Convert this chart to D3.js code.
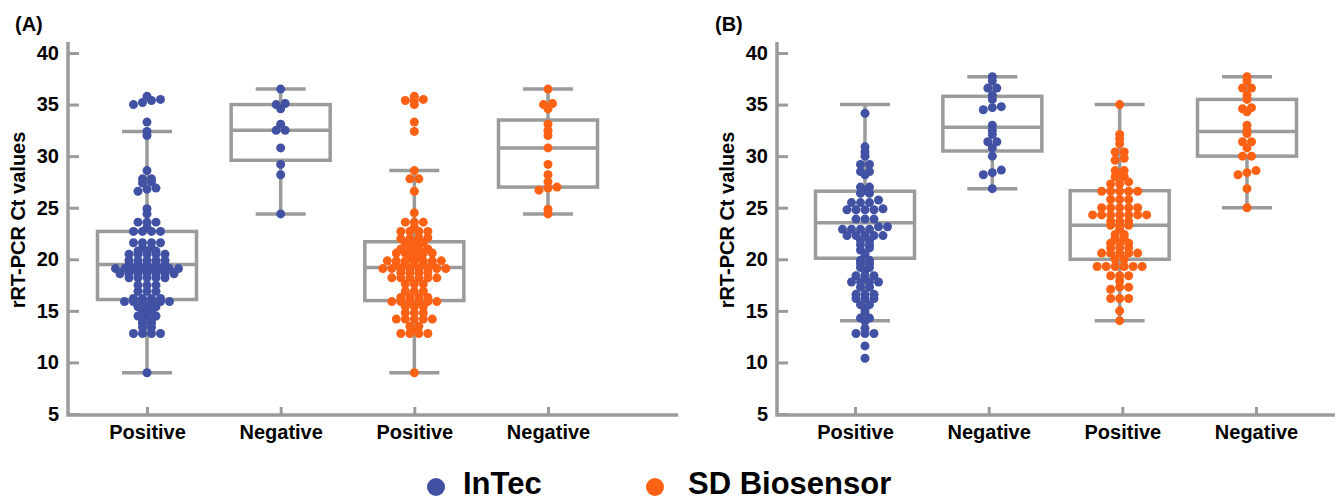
<!DOCTYPE html>
<html>
<head>
<meta charset="utf-8">
<script src="https://cdn.jsdelivr.net/npm/d3@7"></script>
<style>
  body { margin: 0; background: #fff; }
  svg { display: block; }
</style>
</head>
<body>
<script>
// categories on the x axis (same order in both panels)
const categories = ["Positive", "Negative", "Positive", "Negative"];
const groupKeys = ["InTec-Positive", "InTec-Negative", "SD-Positive", "SD-Negative"];
const groupKits = ["InTec", "InTec", "SD Biosensor", "SD Biosensor"];
const kits = ["InTec", "SD Biosensor"];
const yTicks = [5, 10, 15, 20, 25, 30, 35, 40];

// box stats: [lower whisker, Q1, median, Q3, upper whisker]
const boxesA = [
  [9.0, 16.1, 19.5, 22.7, 32.4],
  [24.4, 29.6, 32.5, 35.0, 36.5],
  [9.0, 16.0, 19.2, 21.7, 28.6],
  [24.4, 27.0, 30.8, 33.5, 36.5]
];
const boxesB = [
  [14.05, 20.1, 23.55, 26.6, 35.0],
  [26.85, 30.5, 32.8, 35.8, 37.7],
  [14.05, 20.0, 23.3, 26.65, 35.0],
  [25.0, 30.0, 32.4, 35.5, 37.7]
];

// Ct values, panel A
const aIntecPos = [
  35.8, 35.5, 35.4, 35.2, 35.0, 33.3, 32.4, 32.0,
  28.6, 27.8, 27.8, 27.5, 27.4, 26.9, 26.8, 26.6, 24.9, 24.4,
  23.6, 23.6, 23.6, 23.1, 22.7, 22.7, 22.7, 22.7,
  21.6, 21.6, 21.6, 21.6, 21.1, 21.1, 20.8, 20.8, 20.8,
  20.5, 20.5, 20.5, 20.5, 20.5, 19.9, 19.9, 19.9, 19.9, 19.9,
  19.5, 19.5, 19.5, 19.5, 19.5,
  19.1, 19.1, 19.1, 19.1, 19.1, 19.1, 19.1, 19.1,
  18.6, 18.6, 18.6, 18.6, 18.6, 18.6, 18.6,
  18.2, 18.2, 18.2, 18.2, 18.2, 17.5, 17.5, 17.5, 16.9, 16.9, 16.9,
  16.2, 16.2, 16.2, 16.2, 15.9, 15.9, 15.9, 15.9, 15.9, 15.9,
  15.4, 15.4, 15.4, 15.0, 15.0, 14.5, 14.5, 14.5, 14.1, 14.1,
  13.8, 13.8, 13.4, 13.4, 12.8, 12.8, 12.8, 12.8, 9.0
];
const aIntecNeg = [36.5, 35.1, 35.0, 34.6, 33.1, 32.5, 32.5, 30.8, 29.2, 28.2, 24.4];
const aSdPos = [
  35.8, 35.5, 35.4, 35.4, 35.0, 33.3, 32.4,
  28.6, 27.8, 27.8, 26.6, 24.5,
  23.6, 23.6, 23.6, 23.1, 22.7, 22.7, 22.7, 22.7,
  22.1, 22.1, 22.0, 22.0, 21.6, 21.6, 21.6, 21.3, 21.3,
  21.0, 21.0, 21.0, 21.0, 20.6, 20.6, 20.6, 20.6, 20.6, 20.2, 20.2,
  19.85, 19.85, 19.85, 19.85, 19.85, 19.85, 19.85,
  19.5, 19.5, 19.5, 19.5, 19.5,
  19.1, 19.1, 19.1, 19.1, 19.1, 19.1, 19.1, 19.1,
  18.7, 18.7, 18.7, 18.7, 18.2, 18.2, 18.2, 18.2, 18.2, 18.2,
  17.6, 17.6, 17.6, 16.9, 16.9, 16.9, 16.3, 16.3, 16.3, 16.3,
  15.9, 15.9, 15.9, 15.9, 15.9, 15.9, 15.4, 15.4, 15.4,
  14.8, 14.8, 14.8, 14.2, 14.2, 14.2, 14.2, 14.2,
  13.5, 13.5, 13.2, 12.8, 12.8, 12.8, 12.8, 9.0
];
const aSdNeg = [36.5, 35.1, 35.0, 34.6, 33.1, 32.5, 32.0, 30.8, 29.2, 28.2, 27.5, 27.0, 26.9, 26.7, 24.85, 24.4];

// Ct values, panel B
const bIntecPos = [
  34.15, 30.9, 30.4, 30.0, 29.2, 29.2, 28.5, 28.5, 28.2,
  27.0, 27.0, 26.7, 26.4, 26.4, 25.75, 25.5, 25.5, 25.5,
  24.9, 24.8, 24.8, 24.8, 24.8, 23.9, 23.9, 23.9, 23.15, 23.15,
  22.9, 22.9, 22.9, 22.9, 22.3, 22.3, 22.3, 22.3, 22.3,
  21.8, 21.8, 21.4, 21.4, 21.1, 20.9, 20.5, 19.9, 19.9, 19.6, 19.6,
  19.2, 19.2, 18.9, 18.4, 18.4, 18.4, 18.1, 17.8, 17.8, 17.8, 17.8,
  17.3, 17.3, 16.6, 16.6, 16.6, 16.2, 16.2, 16.2, 15.6, 15.6,
  15.2, 14.9, 14.3, 14.3, 14.0, 13.3, 12.8, 12.8, 12.8, 11.6, 10.4
];
const bIntecNeg = [37.7, 37.3, 36.6, 36.6, 35.9, 35.5, 34.8, 34.7, 34.5, 33.0, 32.5, 32.1, 31.4, 31.4, 30.8, 30.0, 28.65, 28.4, 28.2, 26.85];
const bSdPos = [
  35.0, 32.1, 31.7, 31.2, 30.4, 30.4, 29.8, 29.6, 28.6, 28.6, 28.3, 28.0, 28.0,
  27.5, 27.3, 27.3, 26.6, 26.6, 26.6, 26.6, 26.6, 25.8, 25.8, 25.8,
  25.0, 25.0, 25.0, 25.0, 25.0, 24.3, 24.3, 24.3, 24.3, 24.3, 24.3, 24.3,
  23.7, 23.7, 23.7, 23.3, 23.3, 23.3, 22.9, 22.4, 22.4, 22.1, 22.1,
  21.55, 21.55, 21.55, 21.1, 21.1, 21.1, 20.6, 20.6, 20.6, 20.6, 20.6,
  20.0, 20.0, 19.3, 19.3, 19.3, 19.3, 19.3, 19.3, 18.4, 18.4, 18.4,
  17.9, 17.3, 17.3, 17.1, 16.2, 16.2, 16.2, 15.0, 14.05
];
const bSdNeg = [37.7, 37.3, 36.6, 36.6, 35.9, 35.5, 34.7, 34.6, 34.3, 33.0, 32.5, 32.2, 31.4, 31.4, 30.8, 30.0, 30.0, 28.6, 28.4, 28.2, 26.85, 25.0];

// styles
const kitColors = { "InTec": "#4152a5", "SD Biosensor": "#fd6114" };
const gray = "#9b9b9b";
const font = "'Liberation Sans', Arial, Helvetica, sans-serif";
const dotR = 4.5;
const stepX = 9;     // horizontal spacing of dots in a row
const rowTol = 2.6;  // dots closer than this (px, vertically) share a row
const boxW = 99;
const capW = 50;

const panels = [
  { label: "(A)", labelX: 15, titleX: 25, left: 68, right: 678, top: 42, bottom: 415,
    tickRange: [147, 548], markRange: [147, 548], points: [aIntecPos, aIntecNeg, aSdPos, aSdNeg], boxes: boxesA },
  { label: "(B)", labelX: 715, titleX: 734, left: 777, right: 1335, top: 42, bottom: 415,
    tickRange: [855, 1256], markRange: [865, 1247], points: [bIntecPos, bIntecNeg, bSdPos, bSdNeg], boxes: boxesB }
];

const svg = d3.select("body").append("svg")
  .attr("width", 1338)
  .attr("height", 497);

const y = d3.scaleLinear().domain([5, 40]).range([414, 53]);

// scatter-dot layout: values that sit close together form a row,
// each row is centred on the category
function rowLayout(values) {
  const pts = values.map(v => ({ v: v, py: y(v), dx: 0 }))
    .sort((a, b) => a.py - b.py);
  const rows = [];
  pts.forEach(p => {
    const last = rows[rows.length - 1];
    if (last && p.py - last[last.length - 1].py < rowTol) last.push(p);
    else rows.push([p]);
  });
  rows.forEach(row => {
    row.sort((a, b) => a.v - b.v);
    row.forEach((p, j) => { p.dx = (j - (row.length - 1) / 2) * stepX; });
  });
  return pts;
}

function drawPanel(p) {
  const g = svg.append("g");
  const xTick = d3.scalePoint().domain(groupKeys).range(p.tickRange);
  const xMark = d3.scalePoint().domain(groupKeys).range(p.markRange);

  // y axis
  const yAxis = g.append("g")
    .attr("transform", `translate(${p.left},0)`)
    .call(d3.axisLeft(y).tickValues(yTicks).tickSize(-11).tickSizeOuter(0).tickPadding(9));
  yAxis.select(".domain").remove();
  yAxis.selectAll(".tick line").attr("stroke", gray).attr("stroke-width", 3);
  yAxis.selectAll(".tick text")
    .attr("font-family", font).attr("font-size", 20).attr("font-weight", "bold").attr("fill", "#000");

  // x axis
  const xAxis = g.append("g")
    .attr("transform", `translate(0,${p.bottom})`)
    .call(d3.axisBottom(xTick).tickSize(-8).tickSizeOuter(0).tickPadding(10)
      .tickFormat((d, i) => categories[i]));
  xAxis.select(".domain").remove();
  xAxis.selectAll(".tick line").attr("stroke", gray).attr("stroke-width", 3);
  xAxis.selectAll(".tick text")
    .attr("font-family", font).attr("font-size", 20).attr("font-weight", "bold").attr("fill", "#000");

  g.append("path")
    .attr("d", `M${p.left},${p.top}V${p.bottom}H${p.right}`)
    .attr("fill", "none")
    .attr("stroke", gray)
    .attr("stroke-width", 3.5);

  // boxes
  groupKeys.forEach((key, i) => {
    const [lo, q1, med, q3, hi] = p.boxes[i];
    const cx = xMark(key);
    const bg = g.append("g").attr("stroke", gray).attr("stroke-width", 3.5).attr("fill", "none");
    bg.append("line").attr("x1", cx).attr("x2", cx).attr("y1", y(q3)).attr("y2", y(hi));
    bg.append("line").attr("x1", cx).attr("x2", cx).attr("y1", y(q1)).attr("y2", y(lo));
    bg.append("line").attr("x1", cx - capW / 2).attr("x2", cx + capW / 2).attr("y1", y(hi)).attr("y2", y(hi));
    bg.append("line").attr("x1", cx - capW / 2).attr("x2", cx + capW / 2).attr("y1", y(lo)).attr("y2", y(lo));
    bg.append("rect")
      .attr("x", cx - boxW / 2).attr("y", y(q3))
      .attr("width", boxW).attr("height", y(q1) - y(q3));
    bg.append("line").attr("x1", cx - boxW / 2).attr("x2", cx + boxW / 2).attr("y1", y(med)).attr("y2", y(med));
  });

  // dots
  groupKeys.forEach((key, i) => {
    const cx = xMark(key);
    g.append("g").selectAll("circle")
      .data(rowLayout(p.points[i]))
      .enter().append("circle")
        .attr("cx", d => cx + d.dx)
        .attr("cy", d => d.py)
        .attr("r", dotR)
        .attr("fill", kitColors[groupKits[i]]);
  });

  // labels
  g.append("text")
    .attr("x", p.labelX).attr("y", 31)
    .attr("font-family", font).attr("font-size", 20).attr("font-weight", "bold")
    .text(p.label);

  g.append("text")
    .attr("transform", "rotate(-90)")
    .attr("x", -220).attr("y", p.titleX)
    .attr("text-anchor", "middle")
    .attr("font-family", font).attr("font-size", 20).attr("font-weight", "bold")
    .text("rRT-PCR Ct values");
}

panels.forEach(drawPanel);

// legend
const legendDotX = [436, 655];
const legendTextX = [463, 688];
const legend = svg.append("g");
kits.forEach((k, i) => {
  legend.append("circle")
    .attr("cx", legendDotX[i]).attr("cy", 487).attr("r", 9)
    .attr("fill", kitColors[k]);
  legend.append("text")
    .attr("x", legendTextX[i]).attr("y", 494)
    .attr("font-family", font).attr("font-size", 31).attr("font-weight", "bold")
    .text(k);
});
</script>
</body>
</html>
